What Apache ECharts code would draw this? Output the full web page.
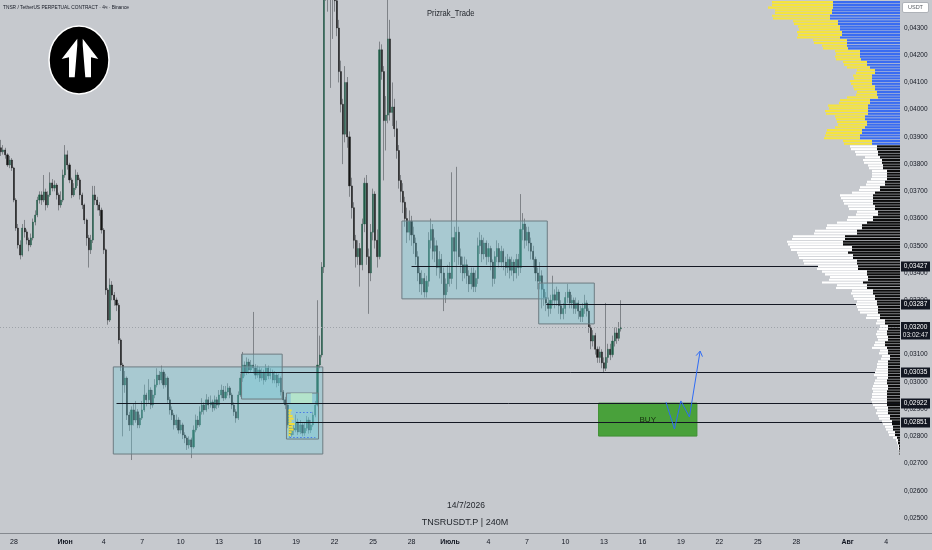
<!DOCTYPE html>
<html><head><meta charset="utf-8">
<script src="https://cdn.jsdelivr.net/npm/echarts/dist/echarts.min.js"></script>
<style>html,body{margin:0;padding:0;background:#c6c9ce;}#c{width:932px;height:550px;}</style>
</head><body><div id="c"></div>
<script>
// ---------- DATA ----------
const startTime = Date.UTC(2026, 4, 27, 0);   // first 4h slot
const slotCount = 421;                          // 4h slots on the time scale
const tickDates = ['2026-05-28','2026-06-01','2026-06-04','2026-06-07','2026-06-10','2026-06-13','2026-06-16','2026-06-19','2026-06-22','2026-06-25','2026-06-28','2026-07-01','2026-07-04','2026-07-07','2026-07-10','2026-07-13','2026-07-16','2026-07-19','2026-07-22','2026-07-25','2026-07-28','2026-08-01','2026-08-04'];
const tickLabels = ['28','Июн','4','7','10','13','16','19','22','25','28','Июль','4','7','10','13','16','19','22','25','28','Авг','4'];
const priceTicks = [0.025,0.026,0.027,0.028,0.029,0.030,0.031,0.032,0.033,0.034,0.035,0.036,0.037,0.038,0.039,0.040,0.041,0.042,0.043];
const priceMin = 0.024449, priceMax = 0.044029;

// 4h candles [open, close, low, high]
const ohlc = [
[.03860,.03845,.03830,.03889],[.03845,.03852,.03835,.03870],[.03852,.03834,.03820,.03860],[.03834,.03797,.03790,.03840],[.03797,.03815,.03785,.03830],
[.03815,.03786,.03775,.03822],[.03786,.03668,.03660,.03790],[.03668,.03565,.03555,.03675],[.03565,.03503,.03490,.03580],[.03503,.03466,.03450,.03520],
[.03466,.03565,.03460,.03580],[.03565,.03551,.03530,.03595],[.03551,.03521,.03505,.03560],[.03521,.03503,.03480,.03530],[.03503,.03529,.03495,.03545],
[.03529,.03587,.03520,.03600],[.03587,.03613,.03575,.03630],[.03613,.03668,.03605,.03680],[.03668,.03687,.03655,.03700],[.03687,.03668,.03650,.03700],
[.03668,.03698,.03660,.03760],[.03698,.03650,.03630,.03710],[.03650,.03687,.03640,.03700],[.03687,.03731,.03680,.03770],[.03731,.03712,.03700,.03745],
[.03712,.03723,.03700,.03740],[.03723,.03687,.03670,.03730],[.03687,.03650,.03630,.03695],[.03650,.03668,.03640,.03700],[.03668,.03760,.03660,.03780],
[.03760,.03834,.03750,.03870],[.03834,.03797,.03780,.03850],[.03797,.03742,.03730,.03805],[.03742,.03687,.03675,.03750],[.03687,.03712,.03680,.03730],
[.03712,.03760,.03705,.03780],[.03760,.03742,.03720,.03770],[.03742,.03687,.03670,.03750],[.03687,.03650,.03635,.03695],[.03650,.03595,.03580,.03655],
[.03595,.03529,.03500,.03600],[.03529,.03485,.03420,.03540],[.03485,.03521,.03470,.03540],[.03521,.03687,.03510,.03720],[.03687,.03668,.03650,.03720],
[.03668,.03650,.03630,.03680],[.03650,.03631,.03610,.03660],[.03631,.03558,.03545,.03640],[.03558,.03485,.03470,.03565],[.03485,.03338,.03320,.03490],
[.03338,.03227,.03210,.03345],[.03227,.03356,.03220,.03380],[.03356,.03319,.03300,.03370],[.03319,.03301,.03280,.03330],[.03301,.03282,.03260,.03310],
[.03282,.03154,.03140,.03290],[.03154,.03062,.03040,.03160],[.03062,.02989,.02800,.03070],[.02989,.03014,.02960,.03040],[.03014,.02878,.02860,.03020],
[.02878,.02842,.02820,.02890],[.02842,.02897,.02713,.02910],[.02897,.02860,.02840,.02920],[.02860,.02890,.02850,.02930],[.02890,.02842,.02830,.02900],
[.02842,.02867,.02830,.02880],[.02867,.02897,.02860,.02930],[.02897,.02952,.02890,.02990],[.02952,.02934,.02910,.02960],[.02934,.02970,.02920,.03010],
[.02970,.02915,.02900,.02980],[.02915,.02952,.02905,.02970],[.02952,.02989,.02940,.03010],[.02989,.03025,.02980,.03050],[.03025,.03007,.02990,.03040],
[.03007,.03036,.02995,.03060],[.03036,.02989,.02975,.03045],[.02989,.03014,.02980,.03030],[.03014,.02934,.02920,.03020],[.02934,.02897,.02880,.02945],
[.02897,.02878,.02860,.02910],[.02878,.02842,.02825,.02885],[.02842,.02860,.02830,.02880],[.02860,.02823,.02810,.02870],[.02823,.02842,.02810,.02860],
[.02842,.02805,.02790,.02850],[.02805,.02794,.02775,.02815],[.02794,.02768,.02750,.02800],[.02768,.02787,.02755,.02800],[.02787,.02761,.02720,.02795],
[.02761,.02823,.02755,.02840],[.02823,.02860,.02815,.02880],[.02860,.02842,.02830,.02875],[.02842,.02890,.02835,.02910],[.02890,.02915,.02880,.02940],
[.02915,.02897,.02880,.02925],[.02897,.02934,.02890,.02955],[.02934,.02915,.02900,.02945],[.02915,.02926,.02905,.02950],[.02926,.02904,.02890,.02935],
[.02904,.02934,.02895,.02950],[.02934,.02915,.02900,.02945],[.02915,.02952,.02905,.02970],[.02952,.02970,.02940,.02990],[.02970,.02941,.02930,.02985],
[.02941,.02963,.02935,.02985],[.02963,.02978,.02950,.02995],[.02978,.02952,.02940,.02985],[.02952,.02915,.02900,.02960],[.02915,.02890,.02875,.02925],
[.02890,.02867,.02850,.02900],[.02867,.02952,.02860,.02965],[.02952,.03014,.02945,.03030],[.03014,.03062,.03000,.03110],[.03062,.03036,.03020,.03075],
[.03036,.03073,.03025,.03090],[.03073,.03044,.03030,.03085],[.03044,.03062,.03035,.03080],[.03062,.03051,.03030,.03257],[.03051,.03025,.03010,.03065],
[.03025,.03044,.03015,.03060],[.03044,.03014,.03000,.03055],[.03014,.03036,.03005,.03050],[.03036,.03007,.02990,.03045],[.03007,.03051,.03000,.03065],
[.03051,.03022,.03010,.03060],[.03022,.03036,.03010,.03050],[.03036,.03007,.02995,.03045],[.03007,.03025,.02995,.03040],[.03025,.02996,.02980,.03035],
[.02996,.03014,.02985,.03030],[.03014,.02963,.02950,.03020],[.02963,.02934,.02920,.02970],[.02934,.02915,.02900,.02945],[.02915,.02842,.02830,.02920],
[.02842,.02805,.02795,.02850],[.02805,.02830,.02798,.02845],[.02830,.02823,.02805,.02850],[.02823,.02853,.02815,.02880],[.02853,.02816,.02805,.02865],
[.02816,.02842,.02808,.02860],[.02842,.02812,.02800,.02850],[.02812,.02830,.02802,.02850],[.02830,.02860,.02820,.02875],[.02860,.02823,.02810,.02870],
[.02823,.02842,.02812,.02860],[.02842,.02878,.02835,.02890],[.02878,.02915,.02870,.02930],[.02915,.03062,.02910,.03300],[.03062,.03099,.03050,.03170],
[.03099,.03422,.03090,.03440],[.03422,.04560,.03400,.04650],[.04560,.04480,.04400,.04680],[.04480,.04520,.04360,.04600],[.04520,.04440,.04080,.04580],
[.04440,.04500,.04260,.04620],[.04500,.04400,.04360,.04550],[.04400,.04300,.04270,.04460],[.04300,.04140,.04100,.04330],[.04140,.04020,.03990,.04180],
[.04020,.03910,.03800,.04040],[.03910,.04100,.03880,.04160],[.04100,.03900,.03860,.04120],[.03900,.03720,.03680,.03920],[.03720,.03640,.03600,.03750],
[.03640,.03520,.03490,.03660],[.03520,.03460,.03420,.03540],[.03460,.03490,.03430,.03520],[.03490,.03430,.03350,.03510],[.03430,.03580,.03410,.03600],
[.03580,.03730,.03550,.03750],[.03730,.03460,.03430,.03760],[.03460,.03400,.03250,.03490],[.03400,.03550,.03370,.03580],[.03550,.03690,.03520,.03710],
[.03690,.03520,.03490,.03700],[.03520,.03460,.03420,.03560],[.03460,.04220,.03450,.04250],[.04220,.04140,.04110,.04240],[.04140,.03960,.03740,.04160],
[.03960,.03980,.03850,.04050],[.03980,.04260,.03950,.04420],[.04260,.03990,.03960,.04330],[.03990,.04010,.03940,.04100],[.04010,.03930,.03900,.04040],
[.03930,.03850,.03820,.03960],[.03850,.03740,.03710,.03870],[.03740,.03700,.03660,.03760],[.03700,.03660,.03620,.03730],[.03660,.03600,.03570,.03680],
[.03600,.03550,.03510,.03640],[.03550,.03590,.03520,.03630],[.03590,.03540,.03500,.03610],[.03540,.03510,.03470,.03570],[.03510,.03460,.03430,.03530],
[.03460,.03400,.03370,.03480],[.03400,.03360,.03330,.03420],[.03360,.03380,.03320,.03410],[.03380,.03330,.03310,.03400],[.03330,.03370,.03310,.03390],
[.03370,.03520,.03350,.03550],[.03520,.03560,.03490,.03600],[.03560,.03480,.03450,.03580],[.03480,.03500,.03440,.03530],[.03500,.03420,.03390,.03520],
[.03420,.03450,.03380,.03480],[.03450,.03400,.03360,.03470],[.03400,.03320,.03260,.03420],[.03320,.03360,.03290,.03380],[.03360,.03400,.03330,.03430],
[.03400,.03380,.03350,.03440],[.03380,.03530,.03360,.03770],[.03530,.03480,.03440,.03570],[.03480,.03550,.03340,.03790],[.03550,.03460,.03430,.03570],
[.03460,.03430,.03400,.03490],[.03430,.03400,.03370,.03460],[.03400,.03430,.03380,.03460],[.03430,.03390,.03360,.03450],[.03390,.03360,.03330,.03410],
[.03360,.03400,.03340,.03420],[.03400,.03350,.03330,.03420],[.03350,.03380,.03330,.03410],[.03380,.03500,.03360,.03530],[.03500,.03520,.03470,.03550],
[.03520,.03470,.03440,.03540],[.03470,.03510,.03450,.03530],[.03510,.03460,.03430,.03520],[.03460,.03490,.03440,.03510],[.03490,.03440,.03410,.03500],
[.03440,.03380,.03350,.03450],[.03380,.03460,.03360,.03480],[.03460,.03490,.03440,.03520],[.03490,.03440,.03420,.03510],[.03440,.03480,.03420,.03500],
[.03480,.03440,.03410,.03490],[.03440,.03420,.03390,.03460],[.03420,.03450,.03400,.03470],[.03450,.03410,.03380,.03460],[.03410,.03440,.03390,.03460],
[.03440,.03400,.03370,.03450],[.03400,.03450,.03380,.03470],[.03450,.03420,.03390,.03470],[.03420,.03560,.03400,.03690],[.03560,.03580,.03520,.03620],
[.03580,.03520,.03490,.03600],[.03520,.03550,.03500,.03570],[.03550,.03510,.03480,.03570],[.03510,.03480,.03450,.03530],[.03480,.03450,.03420,.03500],
[.03450,.03400,.03370,.03460],[.03400,.03370,.03340,.03420],[.03370,.03390,.03340,.03440],[.03390,.03340,.03270,.03410],[.03340,.03310,.03280,.03360],
[.03310,.03290,.03260,.03330],[.03290,.03270,.03240,.03310],[.03270,.03300,.03250,.03320],[.03300,.03320,.03280,.03390],[.03320,.03300,.03270,.03340],
[.03300,.03330,.03280,.03350],[.03330,.03280,.03250,.03340],[.03280,.03250,.03230,.03300],[.03250,.03270,.03230,.03290],[.03270,.03310,.03250,.03330],
[.03310,.03330,.03290,.03360],[.03330,.03290,.03270,.03340],[.03290,.03300,.03270,.03320],[.03300,.03270,.03250,.03310],[.03270,.03290,.03250,.03310],
[.03290,.03260,.03230,.03300],[.03260,.03240,.03220,.03280],[.03240,.03270,.03220,.03290],[.03270,.03290,.03250,.03320],[.03290,.03260,.03240,.03300],
[.03260,.03200,.03180,.03270],[.03200,.03150,.03120,.03210],[.03150,.03170,.03130,.03190],[.03170,.03120,.03100,.03180],[.03120,.03090,.03070,.03130],
[.03090,.03110,.03070,.03130],[.03110,.03070,.03050,.03120],[.03070,.03050,.03035,.03090],[.03050,.03090,.03040,.03290],[.03090,.03120,.03070,.03140],
[.03120,.03100,.03080,.03140],[.03100,.03150,.03090,.03170],[.03150,.03180,.03130,.03200],[.03180,.03160,.03140,.03200],[.03160,.03195,.03150,.03220],
[.03195,.03200,.03185,.03300]
];

// horizontal levels
const levelPrices = [0.03427, 0.03287, 0.03035, 0.02922, 0.02851];
const levelStarts = ['2026-06-28 00:00','2026-07-08 12:00','2026-06-14 16:00','2026-06-05 00:00','2026-06-19 00:00'];
const currentPrice = 0.03200;
const countdown = '03:02:47';

// rectangles [startSlot, endSlot, low, high]
const boxStart = ['2026-06-04 20:00','2026-06-14 20:00','2026-06-18 08:00','2026-06-27 08:00','2026-07-08 00:00','2026-06-18 16:00','2026-07-12 16:00'];
const boxEnd   = ['2026-06-21 00:00','2026-06-17 20:00','2026-06-20 16:00','2026-07-08 12:00','2026-07-12 04:00','2026-06-20 04:00','2026-07-20 04:00'];
const boxLow   = [0.02735, 0.02937, 0.02790, 0.03305, 0.03213, 0.02922, 0.02801];
const boxHigh  = [0.03055, 0.03102, 0.02959, 0.03591, 0.03363, 0.02959, 0.02922];
const boxText  = ['', '', '', '', '', '', 'BUY'];

// projected path
const pathDates  = ['2026-07-17 20:00','2026-07-18 12:00','2026-07-19 00:00','2026-07-19 16:00','2026-07-20 12:00'];
const pathPrices = [0.02926, 0.02827, 0.02930, 0.02871, 0.03113];

// small profile inside box C [price, volume]
const miniVp = [[0.0289,3],[0.0288,2],[0.0287,4],[0.0286,5],[0.0285,3],[0.0284,6],[0.0283,4],[0.0282,5],[0.0281,3],[0.0280,2]];
const miniVpAnchor = '2026-06-18 12:00';
const vaLineStart = ['2026-06-19 00:00','2026-06-18 12:00'];
const vaLineEnd   = ['2026-06-20 08:00','2026-06-20 12:00'];
const vaLinePrice = [0.02889, 0.02797];

// visible range volume profile: [row low price, inner volume, total volume]
const vpStep = 0.0001;
const vpSplit = 0.03865;
const vpRows = [
[0.0439,67,128],[0.0438,67,128],[0.0437,67,132],[0.0436,68,125],[0.0435,68,125],[0.0434,70,128],[0.0433,70,127],[0.0432,62,107],[0.0431,62,106],[0.0430,60,102],
[0.0429,60,101],[0.0428,58,103],[0.0427,58,102],[0.0426,60,103],[0.0425,53,87],[0.0424,53,86],[0.0423,53,78],[0.0422,52,77],[0.0421,40,65],[0.0420,40,64],
[0.0419,40,65],[0.0418,39,64],[0.0417,33,57],[0.0416,33,56],[0.0415,30,53],[0.0414,25,43],[0.0413,25,44],[0.0412,28,47],[0.0411,28,46],[0.0410,28,50],
[0.0409,28,49],[0.0408,25,47],[0.0407,25,46],[0.0406,23,43],[0.0405,23,44],[0.0404,22,53],[0.0403,30,60],[0.0402,30,61],[0.0401,32,72],[0.0400,32,71],
[0.0399,32,75],[0.0398,32,74],[0.0397,35,65],[0.0396,35,64],[0.0395,33,63],[0.0394,33,62],[0.0393,35,65],[0.0392,38,73],[0.0391,38,74],[0.0390,40,75],
[0.0389,40,76],[0.0388,28,57],[0.0387,28,56],[0.0386,23,50],[0.0385,23,49],[0.0384,22,45],[0.0383,22,44],[0.0382,20,35],[0.0381,18,37],[0.0380,18,36],
[0.0379,17,32],[0.0378,17,31],[0.0377,13,28],[0.0376,13,28],[0.0375,13,28],[0.0374,13,29],[0.0373,15,33],[0.0372,15,34],[0.0371,20,40],[0.0370,20,41],
[0.0369,25,48],[0.0368,27,60],[0.0367,27,59],[0.0366,27,57],[0.0365,27,56],[0.0364,25,52],[0.0363,25,51],[0.0362,22,43],[0.0361,22,44],[0.0360,27,52],
[0.0359,27,53],[0.0358,33,63],[0.0357,38,73],[0.0356,38,74],[0.0355,43,85],[0.0354,43,86],[0.0353,55,107],[0.0352,55,108],[0.0351,57,113],[0.0350,57,112],
[0.0349,48,110],[0.0348,48,109],[0.0347,52,103],[0.0346,47,102],[0.0345,47,101],[0.0344,43,97],[0.0343,43,96],[0.0342,42,82],[0.0341,42,83],[0.0340,33,78],
[0.0339,33,75],[0.0338,32,70],[0.0337,32,71],[0.0336,37,78],[0.0335,33,63],[0.0334,33,64],[0.0333,27,48],[0.0332,27,49],[0.0331,25,47],[0.0330,25,46],
[0.0329,23,43],[0.0328,23,44],[0.0327,22,43],[0.0326,22,42],[0.0325,22,40],[0.0324,20,33],[0.0323,20,34],[0.0322,15,23],[0.0321,15,24],[0.0320,12,20],
[0.0319,12,21],[0.0318,13,23],[0.0317,13,24],[0.0316,12,23],[0.0315,12,22],[0.0314,15,25],[0.0313,15,26],[0.0312,13,28],[0.0311,12,20],[0.0310,12,21],
[0.0309,10,18],[0.0308,10,19],[0.0307,12,22],[0.0306,12,23],[0.0305,12,23],[0.0304,12,24],[0.0303,12,25],[0.0302,12,26],[0.0301,12,23],[0.0300,13,25],
[0.0299,13,26],[0.0298,12,27],[0.0297,12,28],[0.0296,13,27],[0.0295,13,28],[0.0294,13,28],[0.0293,13,29],[0.0292,13,28],[0.0291,13,27],[0.0290,12,25],
[0.0289,12,23],[0.0288,12,24],[0.0287,10,22],[0.0286,10,21],[0.0285,8,18],[0.0284,8,17],[0.0283,7,15],[0.0282,7,14],[0.0281,5,12],[0.0280,5,11],
[0.0279,3,7],[0.0278,2,4],[0.0277,2,3],[0.0276,1,2],[0.0275,1,2],[0.0274,0.5,1],[0.0273,0.5,1]
];

// ---------- BUILD ----------
const FONT = "'Liberation Sans',Arial,sans-serif";
const pad = n => String(n).padStart(2, '0');
const fmtSlot = d => d.getUTCFullYear() + '-' + pad(d.getUTCMonth() + 1) + '-' + pad(d.getUTCDate()) + ' ' + pad(d.getUTCHours()) + ':00';
const categories = [];
for (let i = 0; i < slotCount; i++) categories.push(fmtSlot(new Date(startTime + i * 4 * 3600000)));
const idx = s => categories.indexOf(s);
const tickMap = new Map(tickDates.map((d, i) => [d + ' 00:00', tickLabels[i]]));
const fmtPrice = v => v.toFixed(5).replace('.', ',');

const bodies = ohlc.map(r => [r[0], r[1], Math.min(r[0], r[1]), Math.max(r[0], r[1])]);

const boxStyles = [
  {fill: 'rgba(105,200,215,0.33)', stroke: '#6d7c82'},
  {fill: 'rgba(105,200,215,0.33)', stroke: '#6d7c82'},
  {fill: 'rgba(105,200,215,0.33)', stroke: '#6d7c82'},
  {fill: 'rgba(105,200,215,0.33)', stroke: '#6d7c82'},
  {fill: 'rgba(105,200,215,0.33)', stroke: '#6d7c82'},
  {fill: 'rgba(190,235,200,0.75)', stroke: 'rgba(0,0,0,0)'},
  {fill: '#49a13b', stroke: '#3f8f33'}
];
const boxData = boxStart.map((s, i) => [idx(s), idx(boxEnd[i]), boxLow[i], boxHigh[i]]);

const chart = echarts.init(document.getElementById('c'));
const option = {
  backgroundColor: '#c6c9ce',
  animation: false,
  grid: [
    {left: 0, right: 32, top: 0, bottom: 17},
    {left: 760, right: 32, top: 0, bottom: 17}
  ],
  xAxis: [
    {type: 'category', data: categories, boundaryGap: true, gridIndex: 0,
     axisLine: {show: false}, axisTick: {show: false}, splitLine: {show: false},
     axisLabel: {interval: (i, v) => tickMap.has(v),
       formatter: v => { const t = tickMap.get(v) || ''; return isNaN(+t) ? '{m|' + t + '}' : t; },
       rich: {m: {fontWeight: 'bold', fontSize: 7, color: '#131722', fontFamily: FONT}},
       fontSize: 7, color: '#131722', margin: 6, fontFamily: FONT}},
    {type: 'value', gridIndex: 1, min: 0, max: 140, inverse: true, show: false}
  ],
  yAxis: [
    {type: 'value', gridIndex: 0, position: 'right', min: priceMin, max: priceMax, scale: true,
     splitLine: {show: false}, axisLine: {show: false}, axisTick: {show: false},
     axisLabel: {customValues: priceTicks, formatter: v => fmtPrice(v), fontSize: 6.5, color: '#131722', margin: 4, fontFamily: FONT}},
    {type: 'value', gridIndex: 1, min: priceMin, max: priceMax, show: false}
  ],
  series: [
    {type: 'candlestick', name: 'wicks', data: ohlc, barWidth: 1, z: 2, clip: true,
     itemStyle: {color: '#7f8388', color0: '#7f8388', borderColor: '#7f8388', borderColor0: '#7f8388', borderColorDoji: '#7f8388', borderWidth: 1}},
    {type: 'candlestick', name: 'bodies', data: bodies, barWidth: 1.6, z: 2, clip: true,
     itemStyle: {color: '#1f5b46', color0: '#151515', borderColor: '#1f5b46', borderColor0: '#151515', borderColorDoji: '#151515', borderWidth: 0.4}},
    // rectangles
    {type: 'custom', z: 3, data: boxData, encode: {x: [0, 1], y: [2, 3]},
     renderItem: (params, api) => {
       const bw = api.size([1, 0])[0];
       const a = api.coord([api.value(0), api.value(3)]);
       const b = api.coord([api.value(1), api.value(2)]);
       const st = boxStyles[params.dataIndex];
       const el = {type: 'rect', shape: {x: a[0] - bw / 2, y: a[1], width: b[0] - a[0] + bw, height: b[1] - a[1]},
         style: {fill: st.fill, stroke: st.stroke, lineWidth: 1}};
       const t = boxText[params.dataIndex];
       if (t) { el.textContent = {style: {text: t, fill: '#16300f', fontSize: 8, fontFamily: FONT}}; el.textConfig = {position: 'inside'}; }
       return el;
     }},
    // mini profile & value-area lines inside box C
    {type: 'custom', z: 3, data: miniVp, encode: {y: 0},
     renderItem: (params, api) => {
       const bw = api.size([1, 0])[0];
       const p = api.value(0), v = api.value(1);
       const a = api.coord([idx(miniVpAnchor), p + 0.0001]);
       const b = api.coord([idx(miniVpAnchor), p]);
       return {type: 'rect', shape: {x: a[0] - bw / 2, y: a[1] + 0.3, width: v, height: b[1] - a[1] - 0.6}, style: {fill: '#f2dd3a'}};
     }},
    {type: 'custom', z: 3, data: vaLinePrice.map((p, i) => [idx(vaLineStart[i]), idx(vaLineEnd[i]), p]), encode: {x: [0, 1], y: 2},
     renderItem: (params, api) => {
       const a = api.coord([api.value(0), api.value(2)]);
       const b = api.coord([api.value(1), api.value(2)]);
       const y = Math.round(a[1]) + 0.5;
       return {type: 'line', shape: {x1: a[0], y1: y, x2: b[0], y2: y}, style: {stroke: '#4a78e6', lineWidth: 1, lineDash: [1.5, 2]}};
     }},
    // current price dotted line + tag
    {type: 'custom', z: 4, data: [[0, currentPrice]], encode: {y: 1},
     renderItem: (params, api) => {
       const cs = params.coordSys;
       const y = Math.round(api.coord([0, api.value(1)])[1]) + 0.5;
       const xr = cs.x + cs.width;
       return {type: 'group', children: [
         {type: 'line', shape: {x1: cs.x, y1: y, x2: xr, y2: y}, style: {stroke: '#9ea3a9', lineWidth: 1, lineDash: [1, 2]}},
         {type: 'rect', shape: {x: xr + 1, y: y - 5.5, width: 29, height: 17.5}, style: {fill: '#131722'}},
         {type: 'text', style: {x: xr + 15.5, y: y, text: fmtPrice(api.value(1)), fill: '#fff', fontSize: 6.5, align: 'center', verticalAlign: 'middle', fontFamily: FONT}},
         {type: 'text', style: {x: xr + 15.5, y: y + 8, text: countdown, fill: '#e6e6e6', fontSize: 6.5, align: 'center', verticalAlign: 'middle', fontFamily: FONT}}
       ]};
     }},
    // levels
    {type: 'custom', z: 4, data: levelPrices.map((p, i) => [idx(levelStarts[i]), p]), encode: {x: 0, y: 1},
     renderItem: (params, api) => {
       const cs = params.coordSys;
       const a = api.coord([api.value(0), api.value(1)]);
       const y = Math.round(a[1]) + 0.5;
       const xr = cs.x + cs.width;
       return {type: 'group', children: [
         {type: 'line', shape: {x1: a[0], y1: y, x2: xr, y2: y}, style: {stroke: '#131722', lineWidth: 1}},
         {type: 'rect', shape: {x: xr + 1, y: y - 5, width: 29, height: 10}, style: {fill: '#131722'}},
         {type: 'text', style: {x: xr + 15.5, y: y, text: fmtPrice(api.value(1)), fill: '#fff', fontSize: 6.5, align: 'center', verticalAlign: 'middle', fontFamily: FONT}}
       ]};
     }},
    // projected path
    {type: 'custom', z: 4, data: [[idx(pathDates[0]), pathPrices[0]]], encode: {x: 0, y: 1},
     renderItem: (params, api) => {
       const pts = pathDates.map((d, i) => api.coord([idx(d), pathPrices[i]]));
       const P = pts[pts.length - 1], Q = pts[pts.length - 2];
       const ang = Math.atan2(P[1] - Q[1], P[0] - Q[0]);
       const L = 6, a1 = ang + Math.PI * 0.82, a2 = ang - Math.PI * 0.82;
       return {type: 'group', children: [
         {type: 'polyline', shape: {points: pts}, style: {stroke: '#2f6cf5', lineWidth: 1, fill: null}},
         {type: 'polyline', shape: {points: [[P[0] + L * Math.cos(a1), P[1] + L * Math.sin(a1)], P, [P[0] + L * Math.cos(a2), P[1] + L * Math.sin(a2)]]},
          style: {stroke: '#2f6cf5', lineWidth: 1, fill: null}}
       ]};
     }},
    // volume profile
    {type: 'custom', z: 5, xAxisIndex: 1, yAxisIndex: 1, data: vpRows, encode: {x: [1, 2], y: 0},
     renderItem: (params, api) => {
       const p = api.value(0), inner = api.value(1), total = api.value(2);
       const top = api.coord([0, p + vpStep])[1], bot = api.coord([0, p])[1];
       const xr = api.coord([0, p])[0], xi = api.coord([inner, p])[0], xo = api.coord([total, p])[0];
       const h = bot - top - 0.6;
       const hi = p >= vpSplit;
       return {type: 'group', children: [
         {type: 'rect', shape: {x: xo, y: top + 0.3, width: xi - xo, height: h}, style: {fill: hi ? '#f6e43c' : '#ffffff'}},
         {type: 'rect', shape: {x: xi, y: top + 0.3, width: xr - xi, height: h}, style: {fill: hi ? '#3a6cf2' : '#0c0c0c'}}
       ]};
     }}
  ],
  graphic: [
    {type: 'line', shape: {x1: 0, y1: 533.5, x2: 932, y2: 533.5}, style: {stroke: '#85898f', lineWidth: 1}, z: 10},
    {type: 'text', x: 3, y: 7, scaleX: 0.8, originX: 0, originY: 0, style: {text: 'TNSR / TetherUS PERPETUAL CONTRACT · 4ч · Binance', fill: '#131722', fontSize: 6, verticalAlign: 'middle', fontFamily: FONT}, z: 10},
    {type: 'text', x: 427, y: 13, scaleX: 0.8, style: {text: 'Prizrak_Trade', fill: '#1e2228', fontSize: 9.5, verticalAlign: 'middle', fontFamily: FONT}, z: 10},
    {type: 'text', x: 466, y: 506, style: {text: '14/7/2026', fill: '#1e2228', fontSize: 8.5, align: 'center', verticalAlign: 'middle', fontFamily: FONT}, z: 10},
    {type: 'text', x: 465, y: 523, style: {text: 'TNSRUSDT.P | 240M', fill: '#1e2228', fontSize: 9, align: 'center', verticalAlign: 'middle', fontFamily: FONT}, z: 10},
    {type: 'rect', shape: {x: 902.5, y: 2.5, width: 26, height: 10, r: 1.5}, style: {fill: '#ffffff', stroke: '#aeb2b8', lineWidth: 1}, z: 10},
    {type: 'text', x: 908, y: 7.5, style: {text: 'USDT', fill: '#555a60', fontSize: 5.5, verticalAlign: 'middle', fontFamily: FONT}, z: 11},
    {type: 'ellipse', shape: {cx: 79, cy: 60, rx: 30, ry: 34}, style: {fill: '#000000', stroke: '#ffffff', lineWidth: 1.5}, z: 10},
    {type: 'polygon', shape: {points: [[77.3,38.7],[61.7,59],[69,57.3],[69,77.3],[74.7,77.3],[77.3,45]]}, style: {fill: '#ffffff'}, z: 11},
    {type: 'polygon', shape: {points: [[82.7,38.7],[98.3,59],[91,57.3],[91,77.3],[85.3,77.3],[82.7,45]]}, style: {fill: '#ffffff'}, z: 11}
  ]
};
chart.setOption(option);
</script>
</body></html>
